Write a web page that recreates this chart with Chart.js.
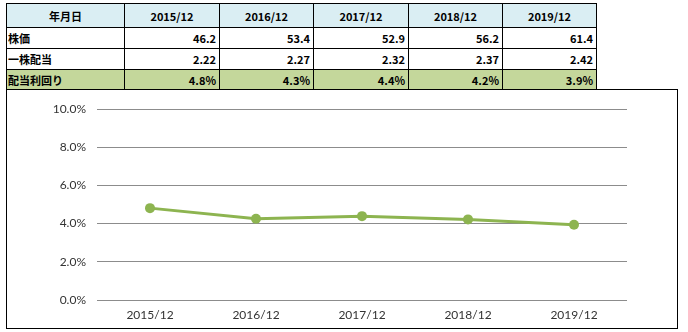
<!DOCTYPE html>
<html>
<head>
<meta charset="utf-8">
<script src="https://cdn.jsdelivr.net/npm/chart.js@4"></script>
<style>
  html, body { margin: 0; padding: 0; background: #fff; }
  body { width: 688px; height: 332px; position: relative; overflow: hidden; }
  table {
    position: absolute; left: 6px; top: 3px;
    border-collapse: collapse;
    font-family: "Noto Sans CJK JP", sans-serif;
    font-size: 11px; font-weight: bold; color: #000;
  }
  td, th { border: 1px solid #000; padding: 0 3px; line-height: 12px; white-space: nowrap; }
  th { background: #daeef3; text-align: center; font-weight: bold; height: 23px; }
  td { text-align: right; height: 20px; }
  td.lbl { text-align: left; padding-left: 1px; }
  tr.yield td { background: #c4d79b; height: 19px; }
  #box {
    position: absolute; left: 6px; top: 89px;
    width: 670px; height: 238px; border: 1px solid #000;
  }
</style>
</head>
<body>
<table id="tbl"></table>
<div id="box"><canvas id="c" width="670" height="238"></canvas></div>
<script>
const headerLabel = "年月日";
const categories = ["2015/12", "2016/12", "2017/12", "2018/12", "2019/12"];
const rowLabels = ["株価", "一株配当", "配当利回り"];
const price = ["46.2", "53.4", "52.9", "56.2", "61.4"];
const dividend = ["2.22", "2.27", "2.32", "2.37", "2.42"];
const yieldText = ["4.8%", "4.3%", "4.4%", "4.2%", "3.9%"];
const yieldValues = [4.81, 4.25, 4.39, 4.22, 3.94];
const yTickMax = 10;
const yTickStep = 2;

// build table
const colWidths = [118, 95, 94, 95, 94, 94];
const tbl = document.getElementById("tbl");
let html = "<colgroup>" + colWidths.map(w => `<col style="width:${w}px">`).join("") + "</colgroup>";
html += "<tr><th>" + headerLabel + "</th>" + categories.map(c => "<th>" + c + "</th>").join("") + "</tr>";
const rows = [price, dividend, yieldText];
rows.forEach((r, i) => {
  html += `<tr${i === 2 ? ' class="yield"' : ''}><td class="lbl">${rowLabels[i]}</td>` + r.map(v => "<td>" + v + "</td>").join("") + "</tr>";
});
tbl.innerHTML = html;
tbl.style.width = colWidths.reduce((a, b) => a + b, 0) + "px";
tbl.style.tableLayout = "fixed";

new Chart(document.getElementById("c"), {
  type: "line",
  data: {
    labels: categories,
    datasets: [{
      data: yieldValues,
      borderColor: "#8db450",
      backgroundColor: "#8db450",
      borderWidth: 3,
      pointRadius: 5,
      pointHoverRadius: 5,
      pointBorderWidth: 0,
      tension: 0
    }]
  },
  options: {
    responsive: false,
    animation: false,
    layout: { padding: { left: 0, right: 50, top: 19, bottom: 0 } },
    plugins: { legend: { display: false }, tooltip: { enabled: false } },
    scales: {
      x: {
        offset: true,
        grid: { display: false, drawTicks: false },
        border: { display: false },
        ticks: { color: "#333", font: { family: "Lato", size: 12 }, padding: 8, maxRotation: 0 },
        afterFit: s => { s.height = 28; }
      },
      y: {
        min: 0, max: yTickMax,
        ticks: {
          stepSize: yTickStep,
          color: "#333", font: { family: "Lato", size: 12 }, padding: 11,
          callback: v => v.toFixed(1) + "%"
        },
        grid: { color: "#8c8c8c", lineWidth: 1, drawTicks: false },
        border: { display: false },
        afterFit: s => { s.width = 90; }
      }
    }
  }
});
</script>
</body>
</html>
